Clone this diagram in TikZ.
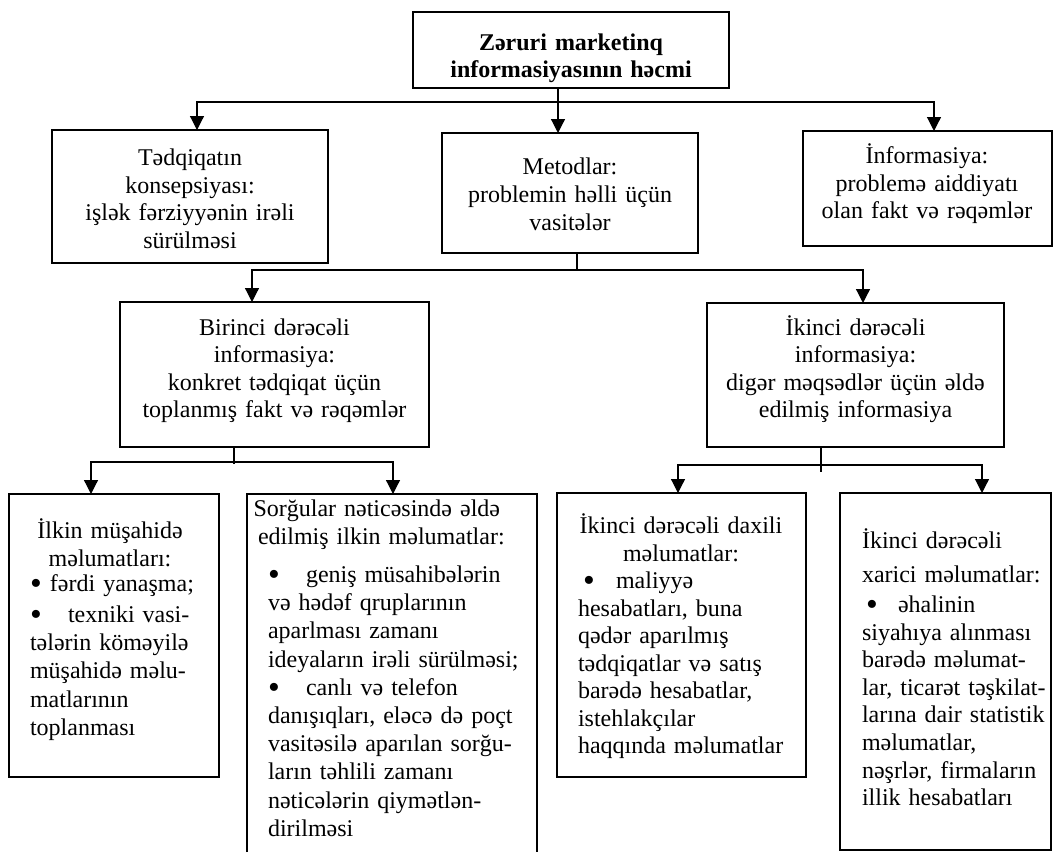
\documentclass[tikz,border=0pt]{standalone}
\usepackage{fontspec}
\setmainfont{Liberation Serif}
\usetikzlibrary{arrows.meta}
% invisible rule that fixes the top of a text block 24pt above its first baseline
\newcommand\lnstrut{\rule{0pt}{24pt}}
% enlarged bullet followed by a fixed gap
\newcommand\bul[1]{\makebox[#1][l]{\raisebox{-3.2pt}{\scalebox{1.4}{•}}}}

\begin{document}
\begin{tikzpicture}[x=1pt,y=-1pt,
  every node/.style={inner sep=0pt,outer sep=0pt},
  frame/.style={draw,line width=2.7pt,anchor=north west},
  ctext/.style={anchor=north,align=center,font=\fontsize{24}{27.6}\selectfont},
  ltext/.style={anchor=north west,align=left,font=\fontsize{24}{27.6}\selectfont},
  wire/.style={line width=1.2pt},
  feed/.style={wire,-{Triangle[length=14pt,width=14pt]}}
]
\useasboundingbox (0,0) rectangle (1054,852);

% ---------- frames ----------
\node[frame,minimum width=316pt,minimum height=76pt]  (top) at (413,12)  {};
\node[frame,minimum width=276pt,minimum height=133pt] (A)   at (52,130)  {};
\node[frame,minimum width=256pt,minimum height=120pt] (B)   at (442,133) {};
\node[frame,minimum width=249pt,minimum height=115pt] (C)   at (803,131) {};
\node[frame,minimum width=309pt,minimum height=145pt] (bir) at (120,302) {};
\node[frame,minimum width=297pt,minimum height=144pt] (ikn) at (707,303) {};
\node[frame,minimum width=210pt,minimum height=283pt] (ilk) at (9,494)   {};
\node[anchor=north west,minimum width=290pt,minimum height=358pt] (sor) at (247,494) {};
\draw[line width=2.7pt] (sor.south west) |- (sor.north east) -- (sor.south east);
\node[frame,minimum width=249pt,minimum height=284pt] (dax) at (557,493) {};
\node[frame,minimum width=211pt,minimum height=357pt] (xar) at (840,493) {};

% ---------- texts ----------
\node[ctext,text width=300pt,font=\fontsize{24}{27}\selectfont\bfseries] (toptxt) at (571,26)
  {\lnstrut Zəruri marketinq\\informasiyasının həcmi};
\node[ctext,text width=266pt] (Atxt) at (190,141.5)
  {\lnstrut Tədqiqatın\\konsepsiyası:\\işlək fərziyyənin irəli\\sürülməsi};
\node[ctext,text width=246pt] (Btxt) at (570,150.9)
  {\lnstrut Metodlar:\\problemin həlli üçün\\vasitələr};
\node[ctext,text width=240pt] (Ctxt) at (927,139.4)
  {\lnstrut İnformasiya:\\problemə aiddiyatı\\olan fakt və rəqəmlər};
\node[ctext,text width=300pt] (birtxt) at (274.5,311)
  {\lnstrut Birinci dərəcəli\\informasiya:\\konkret tədqiqat üçün\\toplanmış fakt və rəqəmlər};
\node[ctext,text width=290pt] (ikntxt) at (855.5,311)
  {\lnstrut İkinci dərəcəli\\informasiya:\\digər məqsədlər üçün əldə\\edilmiş informasiya};

\node[ctext,text width=200pt] (ilkh) at (110,514.5)
  {\lnstrut İlkin müşahidə\\məlumatları:};
\node[ltext,text width=200pt,font=\fontsize{24}{28.2}\selectfont] (ilkb) at (30,567.5)
  {\lnstrut\bul{20pt}fərdi yanaşma;\\[2.8pt]\bul{38pt}texniki vasi-\\tələrin köməyilə\\müşahidə məlu-\\matlarının\\toplanması};

% justified heading: both lines spread across the box
\node[ctext,text width=285pt,font=\fontsize{24}{28}\selectfont] (sorh) at (392.5,492)
  {\lnstrut\makebox[278pt][s]{Sorğular nəticəsində əldə}\\\makebox[269pt][s]{edilmiş ilkin məlumatlar:}};
\node[ltext,text width=280pt,font=\fontsize{24}{28.2}\selectfont] (sorb) at (268,558.5)
  {\lnstrut\bul{38pt}geniş müsahibələrin\\və hədəf qruplarının\\aparlması zamanı\\ideyaların irəli sürülməsi;\\\bul{38pt}canlı və telefon\\danışıqları, eləcə də poçt\\vasitəsilə aparılan sorğu-\\ların təhlili zamanı\\nəticələrin qiymətlən-\\dirilməsi};

\node[ctext,text width=240pt,font=\fontsize{24}{27.5}\selectfont] (daxh) at (681,509.5)
  {\lnstrut İkinci dərəcəli daxili\\məlumatlar:};
\node[ltext,text width=240pt,font=\fontsize{24}{27.5}\selectfont] (daxb) at (578,564.5)
  {\lnstrut\hspace*{5pt}\bul{33pt}maliyyə\\hesabatları, buna\\qədər aparılmış\\tədqiqatlar və satış\\barədə hesabatlar,\\istehlakçılar\\haqqında məlumatlar};

\node[ltext,text width=200pt] (xartxt) at (862,524)
  {\lnstrut İkinci dərəcəli\\[6.9pt]xarici məlumatlar:\\[2.4pt]\hspace*{4pt}\bul{32pt}əhalinin\\siyahıya alınması\\barədə məlumat-\\lar, ticarət təşkilat-\\larına dair statistik\\məlumatlar,\\nəşrlər, firmaların\\illik hesabatları};

% ---------- connectors ----------
\coordinate (j1) at (558,102);
\draw[feed] (top.south -| j1) -- (B.north -| j1);
\draw[feed] (j1) -| ([xshift=7pt]A.north);
\draw[feed] (j1) -| ([xshift=6.5pt]C.north);

\coordinate (j2) at (577,270);
\draw[wire] (B.south -| j2) -- (j2);
\draw[feed] (j2) -| ([xshift=-22.5pt]bir.north);
\draw[feed] (j2) -| ([xshift=7.5pt]ikn.north);

\coordinate (j3) at (234,462);
\draw[wire] (bir.south -| j3) -- ([yshift=-2pt]j3);
\draw[feed] (j3) -| ([xshift=-23pt]ilk.north);
\draw[feed] (j3) -| ([xshift=1pt]sor.north);

\coordinate (j4) at (821,465);
\draw[wire] (ikn.south -| j4) -- ([yshift=-7pt]j4);
\draw[feed] (j4) -| ([xshift=-3.5pt]dax.north);
\draw[feed] (j4) -| ([xshift=36.5pt]xar.north);
\end{tikzpicture}
\end{document}
